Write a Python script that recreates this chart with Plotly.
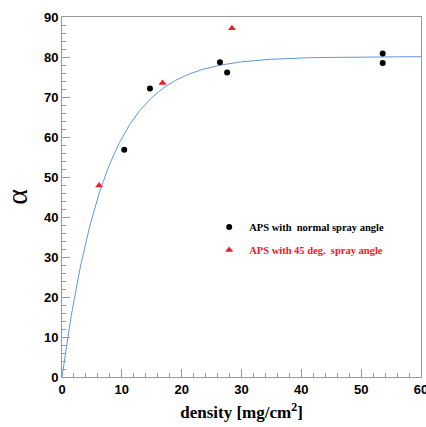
import numpy as np
import plotly.graph_objects as go

# Measured points: APS sample with normal spray angle
normal_density = [10.4, 14.7, 26.4, 27.6, 53.6, 53.6]
normal_alpha = [56.8, 72.1, 78.7, 76.1, 80.9, 78.5]

# Measured points: APS sample with 45 deg. spray angle
tilted_density = [6.2, 16.8, 28.4]
tilted_alpha = [47.9, 73.5, 87.2]

# Saturation fit  alpha = A * (1 - exp(-density / L))
fit_A = 80.1
fit_L = 7.3
fit_x = np.linspace(0, 60, 301)
fit_y = fit_A * (1 - np.exp(-fit_x / fit_L))

x_ticks = [0, 10, 20, 30, 40, 50, 60]
y_ticks = [0, 10, 20, 30, 40, 50, 60, 70, 80, 90]

frame = "#9a9a9a"
serif = "Liberation Serif"
sans = "Liberation Sans"

fig = go.Figure()
fig.add_trace(go.Scatter(
    x=fit_x, y=fit_y, mode="lines",
    line=dict(color="#6496d8", width=1),
    showlegend=False, hoverinfo="skip",
))
fig.add_trace(go.Scatter(
    x=normal_density, y=normal_alpha, mode="markers",
    marker=dict(symbol="circle", size=6, color="black"),
    name="<b>APS with&nbsp;&nbsp;normal spray angle</b>",
    legendgroup="a",
))
fig.add_trace(go.Scatter(
    x=tilted_density, y=tilted_alpha, mode="markers",
    marker=dict(symbol="triangle-up", size=7, color="#e8202a"),
    name="<span style='color:#e8202a'><b>APS with 45 deg.&nbsp;&nbsp;spray angle</b></span>",
    legendgroup="b",
))

axis_common = dict(
    showline=True, linecolor=frame, linewidth=1, mirror=True,
    ticks="inside", ticklen=8, tickcolor=frame, tickwidth=1,
    showgrid=False, zeroline=False, ticklabeloverflow="allow",
    automargin=False,
    tickfont=dict(family=sans, size=13, color="black", weight="bold"),
    minor=dict(ticks="inside", ticklen=4, tickcolor=frame, dtick=2, showgrid=False),
)

fig.update_xaxes(
    range=[0, 60], tickvals=x_ticks, ticktext=[str(v) for v in x_ticks],
    title=dict(text="density [mg/cm<sup>2</sup>]",
               font=dict(family=serif, size=17, color="black", weight="bold"),
               standoff=10),
    **axis_common,
)
fig.update_yaxes(
    range=[0, 90], tickvals=y_ticks, ticktext=[str(v) for v in y_ticks],
    title=dict(text="α", font=dict(family=serif, size=30, color="black"),
               standoff=12),
    **axis_common,
)

fig.update_layout(
    width=426, height=427,
    margin=dict(l=62, r=5, t=17, b=50),
    paper_bgcolor="white", plot_bgcolor="white",
    legend=dict(
        x=0.41, y=0.457, xanchor="left", yanchor="top",
        bgcolor="rgba(0,0,0,0)", borderwidth=0,
        font=dict(family=serif, size=10.5, color="black"),
        traceorder="grouped", tracegroupgap=4,
    ),
)

fig.write_html("out.html")
